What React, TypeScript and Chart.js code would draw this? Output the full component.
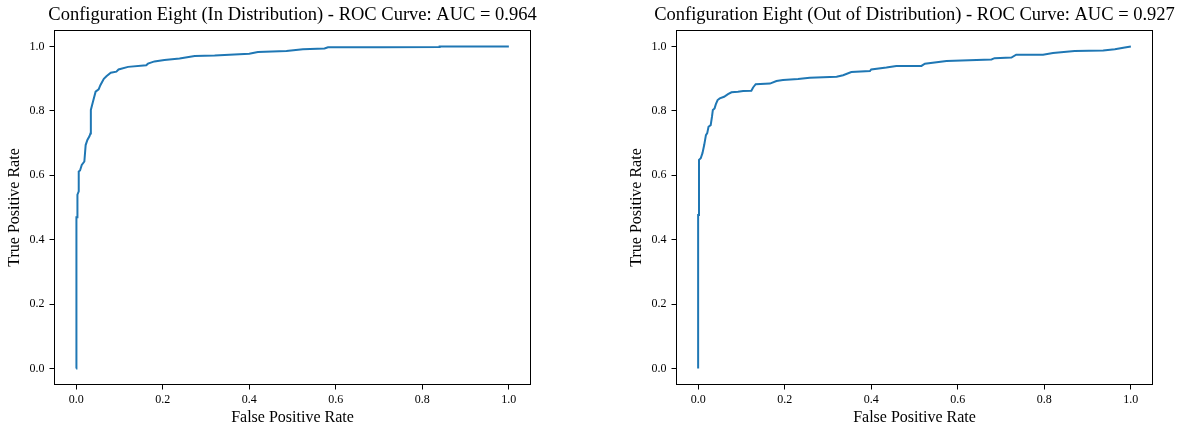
import React, { useEffect, useRef } from "react";
import { Chart, registerables } from "chart.js";

Chart.register(...registerables);

// ---- Data ----
const fprIn = [
  0, 0, 0.001, 0.001, 0.003, 0.003, 0.006, 0.006, 0.009, 0.013, 0.019, 0.022, 0.026, 0.031,
  0.033, 0.034, 0.039, 0.045, 0.052, 0.056, 0.06, 0.064, 0.07, 0.08, 0.093, 0.098, 0.12,
  0.162, 0.166, 0.181, 0.204, 0.239, 0.274, 0.32, 0.4, 0.42, 0.486, 0.524, 0.574, 0.582,
  0.705, 0.84, 0.84, 1.0,
];
const tprIn = [
  0, 0.29, 0.29, 0.47, 0.47, 0.54, 0.55, 0.612, 0.615, 0.632, 0.643, 0.694, 0.71, 0.722,
  0.73, 0.803, 0.829, 0.86, 0.867, 0.88, 0.89, 0.9, 0.908, 0.919, 0.922, 0.929, 0.937,
  0.942, 0.947, 0.954, 0.958, 0.963, 0.971, 0.972, 0.978, 0.983, 0.986, 0.992, 0.994, 0.998,
  0.998, 0.999, 1.0, 1.0,
];

const fprOut = [
  0, 0, 0.002, 0.002, 0.006, 0.01, 0.014, 0.018, 0.021, 0.024, 0.029, 0.032, 0.034, 0.038,
  0.041, 0.045, 0.05, 0.06, 0.069, 0.077, 0.092, 0.104, 0.123, 0.127, 0.133, 0.166, 0.181,
  0.196, 0.231, 0.258, 0.32, 0.335, 0.354, 0.397, 0.4, 0.435, 0.458, 0.516, 0.524, 0.574,
  0.678, 0.685, 0.724, 0.735, 0.797, 0.82, 0.87, 0.936, 0.963, 0.986, 1.0,
];
const tprOut = [
  0, 0.477, 0.477, 0.648, 0.653, 0.669, 0.694, 0.725, 0.731, 0.751, 0.756, 0.782, 0.803, 0.808,
  0.821, 0.834, 0.839, 0.844, 0.852, 0.858, 0.86, 0.862, 0.863, 0.873, 0.883, 0.885, 0.893,
  0.896, 0.899, 0.903, 0.906, 0.911, 0.921, 0.924, 0.929, 0.935, 0.94, 0.94, 0.947, 0.955,
  0.96, 0.964, 0.966, 0.975, 0.975, 0.98, 0.986, 0.988, 0.992, 0.997, 1.0,
];

const axisTicks = [0, 0.2, 0.4, 0.6, 0.8, 1.0];
const titleIn = "Configuration Eight (In Distribution) - ROC Curve: AUC = 0.964";
const titleOut = "Configuration Eight (Out of Distribution) - ROC Curve: AUC = 0.927";
const xLabel = "False Positive Rate";
const yLabel = "True Positive Rate";

const FONT = "'Liberation Serif', 'Times New Roman', serif";
const LINE_COLOR = "#1f77b4";

const framePlugin = {
  id: "frameAndTitle",
  afterLayout(chart: any) {
    const tb = chart.titleBlock;
    const ca = chart.chartArea;
    if (tb && ca) {
      const c = (ca.left + ca.right) / 2;
      tb.left = c - 300;
      tb.right = c + 300;
      tb.width = 600;
    }
  },
  afterDatasetsDraw(chart: any) {
    const { ctx, chartArea: ca } = chart;
    ctx.save();
    ctx.strokeStyle = "#000";
    ctx.lineWidth = 1;
    ctx.strokeRect(ca.left, ca.top, ca.right - ca.left, ca.bottom - ca.top);
    ctx.restore();
  },
};

function makeAxis(label: string, isX: boolean, titlePad: any) {
  return {
    type: "linear",
    min: -0.05,
    max: 1.05,
    afterBuildTicks: (s: any) => {
      s.ticks = axisTicks.map((v) => ({ value: v }));
    },
    afterFit: (s: any) => {
      if (isX) s.height = 44.5;
      else s.width = 54.5;
    },
    ticks: {
      callback: (v: any) => Number(v).toFixed(1),
      font: { family: FONT, size: 12 },
      color: "#000",
      padding: isX ? 3 : 5,
      maxRotation: 0,
      autoSkip: false,
    },
    grid: {
      drawOnChartArea: false,
      drawTicks: true,
      tickLength: 5,
      color: "#000",
      lineWidth: 1,
    },
    border: { display: false },
    title: {
      display: true,
      text: label,
      font: { family: FONT, size: 16 },
      color: "#000",
      padding: titlePad,
    },
  };
}

function RocChart(props: {
  fpr: number[];
  tpr: number[];
  title: string;
  left: number;
  padLeft: number;
  padRight: number;
}) {
  const ref = useRef<HTMLCanvasElement | null>(null);
  useEffect(() => {
    if (!ref.current) return;
    const data = props.fpr.map((x, i) => ({ x, y: props.tpr[i] }));
    const chart = new Chart(ref.current, {
      type: "line",
      data: {
        datasets: [
          {
            data,
            borderColor: LINE_COLOR,
            borderWidth: 2,
            pointRadius: 0,
            fill: false,
            tension: 0,
          },
        ],
      },
      options: {
        animation: false,
        responsive: false,
        devicePixelRatio: 1,
        parsing: true,
        layout: { padding: { left: props.padLeft, right: props.padRight, top: 0, bottom: 0 } },
        plugins: {
          legend: { display: false },
          tooltip: { enabled: false },
          title: {
            display: true,
            text: props.title,
            color: "#000",
            font: { family: FONT, size: 18.5, weight: "normal" },
            padding: { top: 3.8, bottom: 4.5 },
            fullSize: true,
          },
        },
        scales: {
          x: makeAxis(xLabel, true, { top: 0, bottom: 1.5 }),
          y: makeAxis(yLabel, false, { top: 5.5, bottom: 0 }),
        },
      } as any,
      plugins: [framePlugin as any],
    });
    return () => chart.destroy();
  }, []);
  return (
    <canvas
      ref={ref}
      width={592}
      height={429}
      style={{ position: "absolute", left: props.left, top: 0, width: 592, height: 429 }}
    />
  );
}

export default function App() {
  return (
    <div
      style={{
        position: "fixed",
        left: 0,
        top: 0,
        width: 1184,
        height: 429,
        overflow: "hidden",
        background: "#fff",
      }}
    >
      <RocChart fpr={fprIn} tpr={tprIn} title={titleIn} left={0} padLeft={0} padRight={61.5} />
      <RocChart fpr={fprOut} tpr={tprOut} title={titleOut} left={592} padLeft={30} padRight={31.5} />
    </div>
  );
}
